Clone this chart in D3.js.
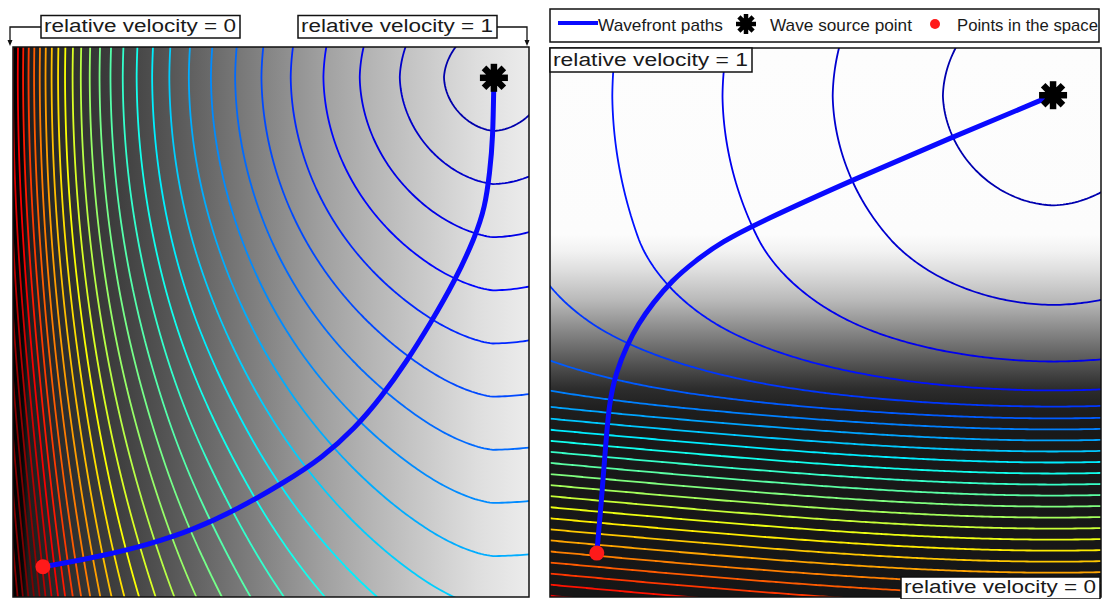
<!DOCTYPE html>
<html>
<head>
<meta charset="utf-8">
<script src="https://cdn.jsdelivr.net/npm/d3@7"></script>
<style>
  body { margin: 0; background: #fff; }
  text { font-family: "Liberation Sans", Arial, sans-serif; fill: #1a1a1a; }
</style>
</head>
<body>
<svg id="fig" width="1104" height="599"></svg>
<script>
// ---- data (domain coords are 0..1 across each panel) ----

// left panel: relative velocity changes along x
var leftSpeedU = [0, 0.01, 0.06, 0.09, 0.14, 0.18, 0.23, 0.29, 0.36, 0.46, 0.57, 0.66, 0.79, 0.93, 1];
var leftSpeed  = [0.09, 0.10, 0.11, 0.13, 0.17, 0.21, 0.27, 0.33, 0.42, 0.50, 0.62, 0.71, 0.83, 1.0, 1.0];
var leftShadeU = [0, 0.018, 0.03, 0.1, 0.2, 0.3, 0.4, 0.5, 0.6, 0.7, 0.8, 0.9, 1];
var leftShade  = [0, 5, 30, 45, 62, 85, 110, 135, 160, 182, 202, 222, 236];
var leftSource = [0.932, 0.056];
var leftPoint  = [0.058, 0.945];
var leftPathU = [0.932, 0.930, 0.924, 0.915, 0.895, 0.857, 0.808, 0.762, 0.715, 0.663, 0.599, 0.527, 0.436, 0.349, 0.262, 0.174, 0.091, 0.058];
var leftPathV = [0.056, 0.169, 0.227, 0.291, 0.347, 0.424, 0.504, 0.573, 0.635, 0.693, 0.747, 0.791, 0.840, 0.878, 0.905, 0.925, 0.940, 0.945];
var leftLevelStep = 0.103;
var leftColorMax = 3.15;

// right panel: relative velocity changes along y
var rightSpeedV = [0, 0.35, 0.40, 0.45, 0.49, 0.53, 0.585, 0.635, 0.66, 0.68, 1];
var rightSpeed  = [1, 1, 0.9, 0.78, 0.66, 0.5, 0.32, 0.16, 0.11, 0.1, 0.1];
var rightShadeV = [0, 0.34, 0.37, 0.405, 0.46, 0.51, 0.55, 0.59, 0.62, 0.66, 0.7, 1];
var rightShade  = [253, 252, 242, 222, 185, 140, 105, 70, 45, 30, 25, 22];
var rightSource = [0.913, 0.086];
var rightPoint  = [0.085, 0.920];
var rightPathU = [0.913, 0.731, 0.550, 0.381, 0.312, 0.263, 0.221, 0.187, 0.160, 0.140, 0.120, 0.107, 0.100, 0.093, 0.087, 0.085];
var rightPathV = [0.086, 0.162, 0.240, 0.317, 0.353, 0.388, 0.424, 0.464, 0.503, 0.541, 0.590, 0.647, 0.738, 0.829, 0.896, 0.920];
var rightLevelStep = 0.2;
var rightColorMax = 5.6;

var legendLabels = ["Wavefront paths", "Wave source point", "Points in the space"];

// jet colormap
var jetStops  = [0, 0.125, 0.375, 0.625, 0.875, 1];
var jetColors = ["#00008f", "#0000ff", "#00ffff", "#ffff00", "#ff0000", "#800000"];
var jet = d3.scaleLinear().domain(jetStops).range(jetColors).clamp(true);

var svg = d3.select("#fig");
var defs = svg.append("defs");

// eikonal solver (fast sweeping) on a pixel grid
function travelTime(x, y, speedAt, src, h) {
  var gx0 = x.range()[0] - h, gy0 = y.range()[0] - h;
  var nx = Math.ceil((x.range()[1] - x.range()[0]) / h) + 3;
  var ny = Math.ceil((y.range()[1] - y.range()[0]) / h) + 3;
  var n = nx * ny;
  var T = new Float64Array(n).fill(Infinity);
  var F = new Float64Array(n);
  var fixed = new Uint8Array(n);
  var sx = x(src[0]), sy = y(src[1]);
  var vs = speedAt(sx, sy);
  for (var j = 0; j < ny; j++) {
    for (var i = 0; i < nx; i++) {
      var px = gx0 + i * h, py = gy0 + j * h, k = i + j * nx;
      F[k] = h / Math.max(speedAt(px, py), 0.02);
      var d = Math.hypot(px - sx, py - sy);
      if (d <= 3 * h) { T[k] = d / vs; fixed[k] = 1; }
    }
  }
  var orders = [[1, 1], [-1, 1], [1, -1], [-1, -1]];
  for (var it = 0; it < 8; it++) {
    orders.forEach(function(o) {
      for (var jj = 0; jj < ny; jj++) {
        var j = o[1] > 0 ? jj : ny - 1 - jj;
        for (var ii = 0; ii < nx; ii++) {
          var i = o[0] > 0 ? ii : nx - 1 - ii;
          var k = i + j * nx;
          if (fixed[k]) continue;
          var a = Math.min(i > 0 ? T[k - 1] : Infinity, i < nx - 1 ? T[k + 1] : Infinity);
          var b = Math.min(j > 0 ? T[k - nx] : Infinity, j < ny - 1 ? T[k + nx] : Infinity);
          if (a === Infinity && b === Infinity) continue;
          var f = F[k], t;
          if (Math.abs(a - b) >= f) t = Math.min(a, b) + f;
          else t = (a + b + Math.sqrt(2 * f * f - (a - b) * (a - b))) / 2;
          if (t < T[k]) T[k] = t;
        }
      }
    });
  }
  return {T: T, nx: nx, ny: ny, gx0: gx0, gy0: gy0, h: h};
}

function drawStar(g, cx, cy, r, w) {
  [0, 45, 90, 135].forEach(function(a) {
    var rad = a * Math.PI / 180;
    g.append("line")
      .attr("x1", cx - r * Math.cos(rad)).attr("y1", cy - r * Math.sin(rad))
      .attr("x2", cx + r * Math.cos(rad)).attr("y2", cy + r * Math.sin(rad))
      .attr("stroke", "#000").attr("stroke-width", w);
  });
  g.append("circle").attr("cx", cx).attr("cy", cy).attr("r", r * 0.62).attr("fill", "#000");
}

function drawPanel(opt) {
  var x = d3.scaleLinear().domain([0, 1]).range(opt.xr);
  var y = d3.scaleLinear().domain([0, 1]).range(opt.yr);
  var w = opt.xr[1] - opt.xr[0], hgt = opt.yr[1] - opt.yr[0];
  var g = svg.append("g");

  // background shading
  var grad = defs.append("linearGradient").attr("id", opt.id + "grad")
    .attr("x1", 0).attr("y1", 0)
    .attr("x2", opt.dir === "x" ? 1 : 0).attr("y2", opt.dir === "x" ? 0 : 1);
  opt.shadeAt.forEach(function(s, i) {
    var c = Math.round(opt.shade[i]);
    grad.append("stop").attr("offset", s).attr("stop-color", d3.rgb(c, c, c));
  });
  g.append("rect").attr("x", opt.xr[0]).attr("y", opt.yr[0])
    .attr("width", w).attr("height", hgt).attr("fill", "url(#" + opt.id + "grad)");

  defs.append("clipPath").attr("id", opt.id + "clip")
    .append("rect").attr("x", opt.xr[0]).attr("y", opt.yr[0]).attr("width", w).attr("height", hgt);

  // travel time field
  var sp = d3.scaleLinear().domain(opt.speedAt).range(opt.speed).clamp(true);
  var speedAt = opt.dir === "x"
    ? function(px, py) { return sp(x.invert(px)); }
    : function(px, py) { return sp(y.invert(py)); };
  var field = travelTime(x, y, speedAt, opt.source, 3);
  var vals = Array.from(field.T, function(t) { return t / w; });

  var tmax = d3.max(vals);
  var levels = d3.range(opt.step, tmax, opt.step);
  var color = d3.scaleLinear().domain([0, opt.colorMax]).range([0, 1]);

  var proj = d3.geoTransform({
    point: function(cx, cy) {
      this.stream.point(field.gx0 + (cx - 0.5) * field.h, field.gy0 + (cy - 0.5) * field.h);
    }
  });
  var geo = d3.geoPath(proj);
  var contours = d3.contours().size([field.nx, field.ny]).thresholds(levels)(vals);

  g.append("g").attr("clip-path", "url(#" + opt.id + "clip)")
    .selectAll("path").data(contours).enter().append("path")
    .attr("d", geo)
    .attr("fill", "none")
    .attr("stroke", function(d) { return jet(color(d.value)); })
    .attr("stroke-width", 1.8);

  // wavefront path
  var pts = opt.pathU.map(function(u, i) { return [u, opt.pathV[i]]; });
  var line = d3.line().x(function(d) { return x(d[0]); }).y(function(d) { return y(d[1]); })
    .curve(d3.curveBasis);
  g.append("path").datum(pts).attr("d", line)
    .attr("fill", "none").attr("stroke", "#0a0aff").attr("stroke-width", 5)
    .attr("stroke-linecap", "round");

  g.append("circle").attr("cx", x(opt.point[0])).attr("cy", y(opt.point[1]))
    .attr("r", 7.5).attr("fill", "#ff1a1a");
  drawStar(g, x(opt.source[0]), y(opt.source[1]), 14, 6.5);

  g.append("rect").attr("x", opt.xr[0]).attr("y", opt.yr[0])
    .attr("width", w).attr("height", hgt)
    .attr("fill", "none").attr("stroke", "#111").attr("stroke-width", 1.5);
  return g;
}

function labelBox(x0, y0, x1, y1, txt, size) {
  var g = svg.append("g");
  g.append("rect").attr("x", x0).attr("y", y0).attr("width", x1 - x0).attr("height", y1 - y0)
    .attr("fill", "#fff").attr("stroke", "#111").attr("stroke-width", 1.5);
  g.append("text").attr("x", x0 + 3).attr("y", y1 - 6)
    .attr("font-size", size)
    .attr("textLength", x1 - x0 - 7).attr("lengthAdjust", "spacingAndGlyphs")
    .text(txt);
}

drawPanel({
  id: "L", dir: "x", xr: [13, 529], yr: [47, 597],
  speedAt: leftSpeedU, speed: leftSpeed, shadeAt: leftShadeU, shade: leftShade,
  source: leftSource, point: leftPoint, pathU: leftPathU, pathV: leftPathV,
  step: leftLevelStep, colorMax: leftColorMax
});
drawPanel({
  id: "R", dir: "y", xr: [550, 1101], yr: [48, 597],
  speedAt: rightSpeedV, speed: rightSpeed, shadeAt: rightShadeV, shade: rightShade,
  source: rightSource, point: rightPoint, pathU: rightPathU, pathV: rightPathV,
  step: rightLevelStep, colorMax: rightColorMax
});

// brackets over the left panel
svg.append("path").attr("d", "M41,27H10V44").attr("fill", "none").attr("stroke", "#111").attr("stroke-width", 1.3);
svg.append("path").attr("d", "M497,27H527V44").attr("fill", "none").attr("stroke", "#111").attr("stroke-width", 1.3);
svg.append("path").attr("d", "M7.5,40L10,46L12.5,40Z").attr("fill", "#111");
svg.append("path").attr("d", "M524.5,40L527,46L529.5,40Z").attr("fill", "#111");

labelBox(41, 15.5, 240, 38, "relative velocity =  0", 18);
labelBox(298, 15.5, 497, 38, "relative velocity =  1", 18);
labelBox(550, 48, 752, 72, "relative velocity =  1", 18);
labelBox(901, 577, 1100, 599, "relative velocity = 0", 18);

// legend
var lg = svg.append("g");
lg.append("rect").attr("x", 550).attr("y", 9).attr("width", 549).attr("height", 33)
  .attr("fill", "#fff").attr("stroke", "#111").attr("stroke-width", 1.5);
lg.append("line").attr("x1", 558).attr("x2", 598).attr("y1", 23).attr("y2", 23)
  .attr("stroke", "#0a0aff").attr("stroke-width", 4);
drawStar(lg, 746, 24, 10, 4.5);
lg.append("circle").attr("cx", 935).attr("cy", 24).attr("r", 5).attr("fill", "#ff1a1a");
var legendX = [598, 770, 957], legendW = [125, 142, 141];
legendLabels.forEach(function(t, i) {
  lg.append("text").attr("x", legendX[i]).attr("y", 31).attr("font-size", 17)
    .attr("textLength", legendW[i]).attr("lengthAdjust", "spacingAndGlyphs").text(t);
});
</script>
</body>
</html>
